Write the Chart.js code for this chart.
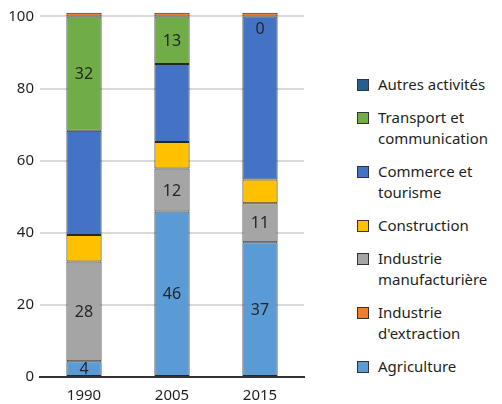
<!DOCTYPE html>
<html>
<head>
<meta charset="utf-8">
<script src="https://cdn.jsdelivr.net/npm/chart.js@4"></script>
<style>
  body { margin: 0; background: #fff; font-family: "Noto Sans", sans-serif; }
  #wrap { position: relative; width: 502px; height: 404px; }
  #box { position: absolute; left: 0; top: 0; width: 310px; height: 404px; }
  #legend { position: absolute; left: 357px; top: 74px; color: #231f20; font-size: 15px; line-height: 21px; }
  .item { position: relative; padding-left: 21px; margin-bottom: 12px; }
  .item span { position: absolute; left: 0; top: 5px; width: 10px; height: 10px; border: 1px solid #333; }
</style>
</head>
<body>
<div id="wrap">
  <div id="box"><canvas id="chart"></canvas></div>
  <div id="legend"></div>
</div>
<script>
// categories
const years = ['1990', '2005', '2015'];

// series values (%), bottom to top of each bar
const agriculture = [4.4, 45.9, 37.4];
const manufacture = [27.6, 11.9, 10.8];
const construction = [7.4, 7.4, 6.6];
const commerce = [28.9, 21.6, 45.2];
const transport = [31.7, 13.2, 0];
const autres = [0, 0, 0];
const extraction = [1, 1, 1];

const yTicks = [0, 20, 40, 60, 80, 100];

// stacking order
const series = [
  { label: 'Agriculture', data: agriculture, color: '#5b9bd5', showValue: true },
  { label: 'Industrie manufacturière', data: manufacture, color: '#a5a5a5', showValue: true },
  { label: 'Construction', data: construction, color: '#ffc000' },
  { label: 'Commerce et tourisme', data: commerce, color: '#4472c4' },
  { label: 'Transport et communication', data: transport, color: '#70ad47', showValue: true },
  { label: 'Autres activités', data: autres, color: '#255e91' },
  { label: "Industrie d'extraction", data: extraction, color: '#ed7d31' }
];

// legend order as in the picture
const legendItems = [
  ['Autres activités', '#255e91'],
  ['Transport et<br>communication', '#70ad47'],
  ['Commerce et<br>tourisme', '#4472c4'],
  ['Construction', '#ffc000'],
  ['Industrie<br>manufacturière', '#a5a5a5'],
  ["Industrie<br>d'extraction", '#ed7d31'],
  ['Agriculture', '#5b9bd5']
];

const legend = document.getElementById('legend');
legendItems.forEach(function (it) {
  const div = document.createElement('div');
  div.className = 'item';
  div.innerHTML = '<span style="background:' + it[1] + '"></span>' + it[0];
  legend.appendChild(div);
});

// writes the value inside the labelled segments
const valueLabels = {
  id: 'valueLabels',
  afterDatasetsDraw(chart) {
    const ctx = chart.ctx;
    ctx.save();
    ctx.font = '16px "Noto Sans"';
    ctx.fillStyle = '#262626';
    ctx.textAlign = 'center';
    ctx.textBaseline = 'middle';
    chart.data.datasets.forEach(function (ds, i) {
      if (!series[i].showValue) return;
      chart.getDatasetMeta(i).data.forEach(function (bar, j) {
        let y = (bar.y + bar.base) / 2;
        if (bar.base - bar.y < 4) y = bar.y + 12;
        ctx.fillText(Math.round(ds.data[j]), bar.x, y + 1);
      });
    });
    ctx.restore();
  }
};

new Chart(document.getElementById('chart'), {
  type: 'bar',
  data: {
    labels: years,
    datasets: series.map(function (s) {
      return {
        label: s.label,
        data: s.data,
        backgroundColor: s.color,
        borderColor: '#262626',
        borderWidth: 1,
        borderSkipped: false,
        barPercentage: 0.4,
        categoryPercentage: 1
      };
    })
  },
  options: {
    responsive: true,
    maintainAspectRatio: false,
    animation: false,
    layout: { padding: { top: 11, right: 6, left: 0, bottom: 0 } },
    plugins: { legend: { display: false }, tooltip: { enabled: false } },
    scales: {
      x: {
        stacked: true,
        grid: { display: false },
        border: { color: '#333', width: 2 },
        ticks: { color: '#231f20', font: { family: 'Noto Sans', size: 15 }, padding: 2 },
        afterFit(scale) { scale.height = 27; }
      },
      y: {
        stacked: true,
        min: 0,
        max: 101.5,
        afterBuildTicks(scale) { scale.ticks = yTicks.map(function (v) { return { value: v }; }); },
        grid: { color: '#d9d9d9', lineWidth: 2, drawTicks: false },
        border: { display: false },
        ticks: { color: '#231f20', font: { family: 'Noto Sans', size: 15 }, padding: 6 },
        afterFit(scale) { scale.width = 40; scale.paddingTop = 0; scale.paddingBottom = 0; }
      }
    }
  },
  plugins: [valueLabels]
});
</script>
</body>
</html>
